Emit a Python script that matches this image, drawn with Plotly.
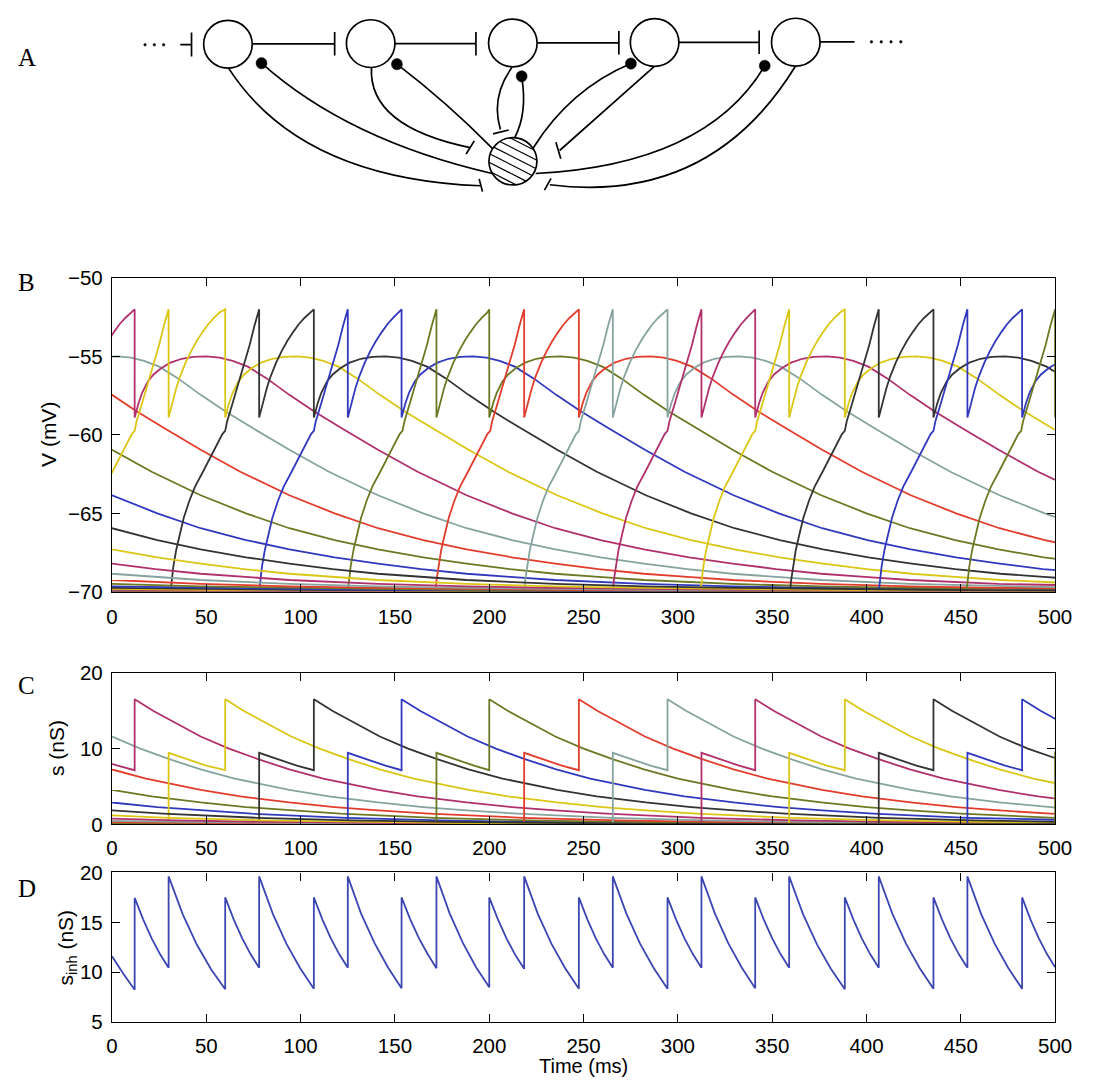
import math
import plotly.graph_objects as go

W, H = 1096, 1089

# ------------------------------------------------------------------ data
# MATLAB default colour order as it appears in the printed figure
line_colors = ["#3039bd", "#6c7822", "#e23c2c", "#86a39f", "#b0306c", "#dbc615", "#333333"]
inh_color = "#3b46b2"

# (first spike, second spike) times in ms for each of the 21 ring neurons (columns 1..21)
neuron_spike_pairs = [
    [(-205.0, -176.0)],
    [(-158.0, -129.0)],
    [(-111.0, -82.0)],
    [(-64.5, -35.0)],
    [(-17.0, 12.0)],
    [(-957.0, -928.0), (30.0, 60.0)],
    [(-910.0, -881.0), (78.0, 107.0)],
    [(-863.0, -834.0), (125.0, 153.5)],
    [(-816.0, -787.0), (172.0, 200.0)],
    [(-769.0, -740.0), (218.5, 247.5)],
    [(-722.0, -693.0), (265.5, 294.5)],
    [(-675.0, -646.0), (312.5, 341.0)],
    [(-628.0, -599.0), (359.0, 388.5)],
    [(-581.0, -552.0), (406.5, 435.5)],
    [(-534.0, -505.0), (453.5, 482.5)],
    [(-487.0, -458.0), (500.0, 529.0)],
    [(-440.0, -411.0)],
    [(-393.0, -364.0)],
    [(-346.0, -317.0)],
    [(-299.0, -270.0)],
    [(-252.0, -223.0)],
]

# membrane potential waveform
# rise before the first spike (time relative to first spike)
V_rise_rel_ms = [-47, -46.5, -45.5, -44, -42, -40, -37, -34, -30, -26, -22, -19.5, -18, -17,
                 -14, -11, -8, -5, -2.5, 0]
V_rise_mV = [-70.0, -69.3, -68.4, -67.35, -66.3, -65.3, -64.2, -63.3, -62.4, -61.45, -60.5,
             -59.95, -59.75, -59.15, -57.95, -56.75, -55.55, -54.25, -53.05, -52.0]
# between first and second spike (relative to first spike)
V_isi_rel_ms = [0, 2, 4, 6, 9, 12, 15, 18, 21, 24, 27]
V_isi_mV = [-58.9, -57.9, -57.05, -56.3, -55.4, -54.65, -54.0, -53.45, -52.95, -52.55, -52.2]
V_threshold_mV = -52.0
# after the second spike (relative to second spike)
V_after_rel_ms = [0, 2, 4, 7, 10, 14, 19, 25, 31, 38, 45, 52, 60, 70, 82, 95, 110, 129, 150,
                  176, 200, 223, 247, 270, 294, 317, 340, 364, 387, 411, 458, 505, 552, 600,
                  650, 700, 800, 950]
V_after_mV = [-58.9, -58.0, -57.3, -56.6, -56.15, -55.75, -55.4, -55.15, -55.03, -55.0, -55.08,
              -55.28, -55.65, -56.4, -57.45, -58.5, -59.6, -60.95, -62.35, -63.85, -65.0,
              -65.95, -66.7, -67.3, -67.8, -68.2, -68.55, -68.85, -69.05, -69.25, -69.5,
              -69.65, -69.75, -69.82, -69.87, -69.91, -69.95, -69.98]

# synaptic gating
s_isi_rel_ms = [0, 10, 20]
s_isi_nS = [9.45, 8.55, 7.75]
s_before_second_nS = 7.15
s_after_rel_ms = [0, 10, 25, 35, 50, 65, 82, 100, 129, 150, 176, 200, 223, 250, 300, 350,
                  400, 450, 500, 600, 700, 950]
s_after_nS = [16.5, 14.95, 12.9, 11.6, 10.0, 8.65, 7.25, 6.05, 4.55, 3.7, 2.9, 2.3, 1.85,
              1.42, 0.88, 0.54, 0.33, 0.2, 0.12, 0.045, 0.017, 0.002]

# inhibitory conductance
s_inh_t_ms = [0, 6, 12, 12,
              16.5, 21, 25.5, 30, 30,
              37.5, 45, 52.5, 60, 60,
              64.5, 69, 73.5, 78, 78,
              85.25, 92.5, 99.75, 107, 107,
              111.5, 116, 120.5, 125, 125,
              132, 139.25, 146.4, 153.5, 153.5,
              158, 162.75, 167.4, 172, 172,
              179, 186, 193, 200, 200,
              204.6, 209.25, 213.9, 218.5, 218.5,
              225.75, 233, 240.25, 247.5, 247.5,
              252, 256.5, 261, 265.5, 265.5,
              272.75, 280, 287.25, 294.5, 294.5,
              299, 303.5, 308, 312.5, 312.5,
              319.6, 326.75, 333.9, 341, 341,
              345.5, 350, 354.5, 359, 359,
              366.4, 373.75, 381.1, 388.5, 388.5,
              393, 397.5, 402, 406.5, 406.5,
              413.75, 421, 428.25, 435.5, 435.5,
              440, 444.5, 449, 453.5, 453.5,
              460.75, 468, 475.25, 482.5, 482.5,
              486.9, 491.25, 495.6, 500]
s_inh_nS = [11.6, 9.85, 8.25, 17.45,
            15.3, 13.4, 11.8, 10.45, 19.6,
            15.8, 12.75, 10.3, 8.3, 17.5,
            15.3, 13.4, 11.8, 10.45, 19.6,
            15.85, 12.85, 10.4, 8.35, 17.5,
            15.3, 13.4, 11.8, 10.45, 19.6,
            15.9, 12.9, 10.45, 8.4, 17.5,
            15.35, 13.4, 11.8, 10.4, 19.6,
            15.9, 12.95, 10.5, 8.5, 17.5,
            15.3, 13.35, 11.7, 10.35, 19.6,
            15.85, 12.85, 10.4, 8.35, 17.5,
            15.3, 13.4, 11.8, 10.45, 19.6,
            15.85, 12.85, 10.4, 8.35, 17.5,
            15.3, 13.4, 11.8, 10.45, 19.6,
            15.9, 12.9, 10.45, 8.4, 17.5,
            15.3, 13.4, 11.8, 10.45, 19.6,
            15.8, 12.8, 10.35, 8.3, 17.5,
            15.3, 13.4, 11.8, 10.45, 19.6,
            15.85, 12.85, 10.4, 8.35, 17.5,
            15.3, 13.4, 11.8, 10.45, 19.6,
            15.85, 12.85, 10.4, 8.35, 17.5,
            15.3, 13.45, 11.85, 10.5]

time_ticks_ms = [0, 50, 100, 150, 200, 250, 300, 350, 400, 450, 500]
V_ticks_mV = [-70, -65, -60, -55, -50]
s_ticks_nS = [0, 10, 20]
s_inh_ticks_nS = [5, 10, 15, 20]


# ------------------------------------------------------------------ build traces
def voltage_trace(pairs):
    xs, ys = [], []
    for k, (t1, t2) in enumerate(pairs):
        for r, v in zip(V_rise_rel_ms, V_rise_mV):
            xs.append(t1 + r); ys.append(v)
        for r, v in zip(V_isi_rel_ms, V_isi_mV):
            xs.append(t1 + r); ys.append(v)
        xs.append(t2); ys.append(V_threshold_mV)
        nxt = pairs[k + 1][0] + V_rise_rel_ms[0] if k + 1 < len(pairs) else float("inf")
        for r, v in zip(V_after_rel_ms, V_after_mV):
            if t2 + r < nxt:
                xs.append(t2 + r); ys.append(v)
    return xs, ys


def gating_trace(pairs):
    xs, ys = [], []
    for k, (t1, t2) in enumerate(pairs):
        xs.append(t1); ys.append(ys[-1] if ys else 0.0)
        for r, v in zip(s_isi_rel_ms, s_isi_nS):
            xs.append(t1 + r); ys.append(v)
        xs.append(t2); ys.append(s_before_second_nS)
        nxt = pairs[k + 1][0] if k + 1 < len(pairs) else float("inf")
        for r, v in zip(s_after_rel_ms, s_after_nS):
            if t2 + r < nxt:
                xs.append(t2 + r); ys.append(v)
    return xs, ys


LINE_W = 1.8
fig = go.Figure()
for j, pairs in enumerate(neuron_spike_pairs):
    col = line_colors[j % 7]
    vx, vy = voltage_trace(pairs)
    fig.add_trace(go.Scatter(x=vx, y=vy, mode="lines", line=dict(color=col, width=LINE_W),
                             xaxis="x", yaxis="y", hoverinfo="skip"))
for j, pairs in enumerate(neuron_spike_pairs):
    col = line_colors[j % 7]
    sx, sy = gating_trace(pairs)
    fig.add_trace(go.Scatter(x=sx, y=sy, mode="lines", line=dict(color=col, width=LINE_W),
                             xaxis="x2", yaxis="y2", hoverinfo="skip"))
fig.add_trace(go.Scatter(x=s_inh_t_ms, y=s_inh_nS, mode="lines",
                         line=dict(color=inh_color, width=LINE_W), xaxis="x3", yaxis="y3",
                         hoverinfo="skip"))

# ------------------------------------------------------------------ layout
def fx(px):
    return px / W


def fy(py):
    return 1 - py / H


X0, X1 = 108.3, 1071.6
tick_font = dict(family="Liberation Sans, Arial, sans-serif", size=20.5, color="black")
ax_common = dict(showline=True, linecolor="black", linewidth=1.4, mirror="ticks",
                 ticks="inside", ticklen=8, tickwidth=1.2, tickcolor="black",
                 showgrid=False, zeroline=False, tickfont=tick_font, fixedrange=True)

fig.update_layout(
    width=W, height=H, margin=dict(l=0, r=0, t=0, b=0),
    paper_bgcolor="white", plot_bgcolor="white", showlegend=False,
    xaxis=dict(domain=[fx(X0), fx(X1)], range=[0, 500], tickvals=time_ticks_ms,
               anchor="y", ticklabelstandoff=6, **ax_common),
    yaxis=dict(domain=[fy(592.3), fy(271.7)], range=[-70, -50], tickvals=V_ticks_mV,
               anchor="x", ticklabelstandoff=4, **ax_common),
    xaxis2=dict(domain=[fx(X0), fx(X1)], range=[0, 500], tickvals=time_ticks_ms,
                anchor="y2", ticklabelstandoff=5, **ax_common),
    yaxis2=dict(domain=[fy(830), fy(675)], range=[0, 20], tickvals=s_ticks_nS,
                anchor="x2", ticklabelstandoff=4, **ax_common),
    xaxis3=dict(domain=[fx(X0), fx(X1)], range=[0, 500], tickvals=time_ticks_ms,
                anchor="y3", ticklabelstandoff=5, **ax_common),
    yaxis3=dict(domain=[fy(1032), fy(879)], range=[5, 20], tickvals=s_inh_ticks_nS,
                anchor="x3", ticklabelstandoff=4, **ax_common),
    xaxis4=dict(domain=[0, 1], range=[0, W], visible=False, fixedrange=True, anchor="y4"),
    yaxis4=dict(domain=[fy(230), 1], range=[230, 0], visible=False, fixedrange=True,
                anchor="x4"),
)

# ------------------------------------------------------------------ annotations
label_font = dict(family="Liberation Serif, Times New Roman, serif", size=25, color="black")
title_font = dict(family="Liberation Sans, Arial, sans-serif", size=21, color="black")
ann = []
for letter, ypx in [("A", 46), ("B", 276), ("C", 688), ("D", 895)]:
    ann.append(dict(text=letter, x=fx(21), y=fy(ypx), xref="paper", yref="paper",
                    showarrow=False, font=label_font, xanchor="center", yanchor="middle"))
ann.append(dict(text="V (mV)", x=fx(44), y=fy(432), xref="paper", yref="paper",
                showarrow=False, font=title_font, textangle=-90,
                xanchor="center", yanchor="middle"))
ann.append(dict(text="s (nS)", x=fx(51), y=fy(752), xref="paper", yref="paper",
                showarrow=False, font=title_font, textangle=-90,
                xanchor="center", yanchor="middle"))
ann.append(dict(text="s<sub>inh</sub> (nS)", x=fx(62), y=fy(956), xref="paper",
                yref="paper", showarrow=False, font=title_font, textangle=-90,
                xanchor="center", yanchor="middle"))
ann.append(dict(text="Time (ms)", x=fx(590), y=fy(1089), xref="paper", yref="paper",
                showarrow=False, font=dict(family="Liberation Sans, Arial, sans-serif",
                                           size=20, color="black"),
                xanchor="center", yanchor="bottom", borderpad=0))
fig.update_layout(annotations=ann)

# ------------------------------------------------------------------ panel A schematic
shapes = []
LW = 1.7
K = "black"


def seg(x0, y0, x1, y1, w=LW):
    shapes.append(dict(type="line", xref="x4", yref="y4", x0=x0, y0=y0, x1=x1, y1=y1,
                       line=dict(color=K, width=w)))


def ell(cx, cy, rx, ry, fill=None, w=LW):
    shapes.append(dict(type="circle", xref="x4", yref="y4", x0=cx - rx, x1=cx + rx,
                       y0=cy - ry, y1=cy + ry, line=dict(color=K, width=w),
                       fillcolor=fill if fill else "rgba(0,0,0,0)"))


def curve(p0, c, p1):
    shapes.append(dict(type="path", xref="x4", yref="y4",
                       path=f"M {p0[0]},{p0[1]} Q {c[0]},{c[1]} {p1[0]},{p1[1]}",
                       line=dict(color=K, width=LW)))


# excitatory cells
for cx, cy in [(226.7, 33.0), (372.5, 32.3), (517.7, 31.6), (662.5, 31.1), (806.7, 30.8)]:
    ell(cx, cy, 24.8, 24.4)

# chain connections
seg(178, 33.3, 189.5, 33.3); seg(189.5, 21, 189.5, 45.5)
seg(251.5, 32.5, 335.7, 32.5); seg(335.7, 20.5, 335.7, 44.5)
seg(397.3, 32.3, 480, 32.3); seg(480, 20.5, 480, 44.5)
seg(542.5, 31.5, 626, 31.5); seg(626, 19.5, 626, 43.5)
seg(687.3, 31, 769.3, 31); seg(769.3, 19, 769.3, 43)
seg(831.5, 30.5, 866.7, 30.5)
for dx in [142, 151.5, 161]:
    ell(dx, 33.5, 1.3, 1.3, fill=K, w=0.5)
for dx in [884, 894, 904, 914]:
    ell(dx, 30.5, 1.3, 1.3, fill=K, w=0.5)

# connections to and from the inhibitory cell
curve((227.3, 57.3), (300, 170), (484.5, 177.5)); seg(483.3, 170.5, 486.7, 183.5)
curve((261, 52.3), (349, 131), (496.5, 165))
curve((373.3, 56.7), (370, 117), (474, 138.5)); seg(470, 145, 478.3, 131.7)
curve((399.3, 53.3), (450, 92), (497, 139.5))
curve((516.7, 56.7), (495, 87), (505, 120)); seg(497.5, 124.5, 513.5, 120.5)
curve((526.7, 65.7), (533, 103), (519.5, 128.5))
curve((638.3, 52.7), (576, 79), (538.5, 139))
curve((661.7, 56), (610, 102), (565.5, 141.5)); seg(561.7, 133, 566.7, 150)
curve((775, 55), (715, 156), (541, 165))
curve((806, 56), (719, 197), (555.5, 176.5)); seg(550, 182, 556.7, 170)

# synapse dots
for dx, dy in [(261, 52.3), (399.3, 53.3), (526.7, 65.7), (638.3, 52.7), (775, 55)]:
    ell(dx, dy, 5.6, 5.8, fill=K, w=0.5)

# hatched inhibitory cell
hx, hy, hrx, hry = 517.8, 152.5, 24.5, 24.2
ell(hx, hy, hrx, hry, fill="white")
ang = math.radians(27)
ux, uy = math.cos(ang), math.sin(ang)
nx, ny = -math.sin(ang), math.cos(ang)
for d in [-20, -12, -4, 4, 12, 20]:
    px0, py0 = hx + d * nx, hy + d * ny
    a = (ux / hrx) ** 2 + (uy / hry) ** 2
    b = 2 * ((px0 - hx) * ux / hrx ** 2 + (py0 - hy) * uy / hry ** 2)
    c = ((px0 - hx) / hrx) ** 2 + ((py0 - hy) / hry) ** 2 - 1
    disc = b * b - 4 * a * c
    if disc > 0:
        s1 = (-b - math.sqrt(disc)) / (2 * a)
        s2 = (-b + math.sqrt(disc)) / (2 * a)
        seg(px0 + s1 * ux, py0 + s1 * uy, px0 + s2 * ux, py0 + s2 * uy, w=1.2)

fig.update_layout(shapes=shapes)

fig.write_html("out.html")
